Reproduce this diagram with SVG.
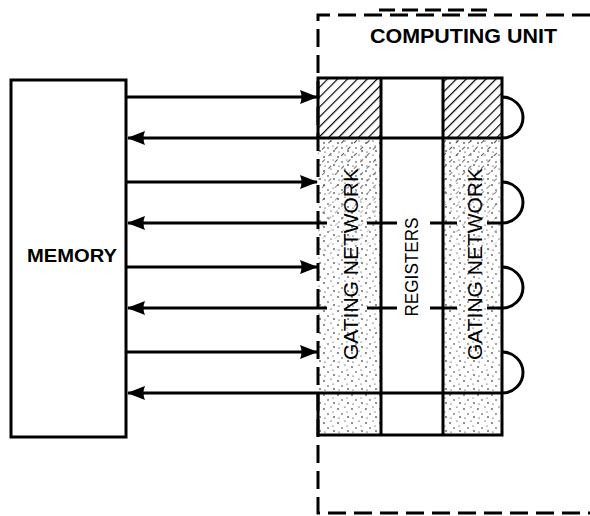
<svg xmlns="http://www.w3.org/2000/svg" width="590" height="516" viewBox="0 0 590 516">
  <style>
    .ln { stroke: #000; stroke-width: 3; fill: none; }
    .dash { stroke: #000; stroke-width: 3; fill: none; stroke-dasharray: 18 8; }
    .lbl { font-family: "Liberation Sans", Arial, sans-serif; fill: #000; }
  </style>
  <defs>
    <marker id="ah" viewBox="0 0 18 14" refX="17" refY="7" markerWidth="18" markerHeight="14" markerUnits="userSpaceOnUse" orient="auto">
      <path d="M0,0 L18,7 L0,14 Q3,7 0,0 Z" fill="#000"/>
    </marker>
    <pattern id="hatch" width="7" height="7" patternUnits="userSpaceOnUse" patternTransform="rotate(45)">
      <line x1="0" y1="0" x2="0" y2="7" stroke="#000" stroke-width="2.4"/>
    </pattern>
    <pattern id="stip" width="14" height="14" patternUnits="userSpaceOnUse">
      <circle cx="2" cy="3" r="0.8" fill="#000"/>
      <circle cx="9" cy="1" r="0.6" fill="#000"/>
      <circle cx="6" cy="8" r="0.7" fill="#000"/>
      <circle cx="12" cy="11" r="0.8" fill="#000"/>
      <circle cx="3" cy="12" r="0.6" fill="#000"/>
      <circle cx="11" cy="6" r="0.5" fill="#000"/>
    </pattern>
    <pattern id="brokenhatch" width="9" height="9" patternUnits="userSpaceOnUse" patternTransform="rotate(45)">
      <line x1="0" y1="0" x2="0" y2="4" stroke="#000" stroke-width="1.5"/>
    </pattern>
    <linearGradient id="fade" x1="0" y1="0" x2="0" y2="1">
      <stop offset="0" stop-color="#fff" stop-opacity="1"/>
      <stop offset="1" stop-color="#fff" stop-opacity="0"/>
    </linearGradient>
    <mask id="fadeMask">
      <rect x="300" y="138" width="220" height="130" fill="url(#fade)"/>
    </mask>
  </defs>

  <g id="computing-unit">
    <path class="dash" d="M590,15 H318 V513 H590"/>
    <path class="ln" d="M379,10 H395 M402,10 H418 M425,10 H441 M448,10 H464 M471,10 H487"/>
    <text class="lbl" x="370" y="43" font-size="20" font-weight="bold" textLength="187" lengthAdjust="spacingAndGlyphs">COMPUTING UNIT</text>
  </g>

  <g id="memory">
    <rect class="ln" x="11" y="80" width="115" height="357" fill="#fff"/>
    <text class="lbl" x="27" y="262" font-size="19" font-weight="bold" textLength="90" lengthAdjust="spacingAndGlyphs">MEMORY</text>
  </g>

  <g id="gating-network-left">
    <rect x="318" y="78" width="63" height="60" fill="url(#hatch)"/>
    <rect x="318" y="138" width="63" height="297" fill="url(#stip)"/>
    <rect x="318" y="138" width="63" height="130" fill="url(#brokenhatch)" mask="url(#fadeMask)"/>
    <text class="lbl" transform="translate(358,264) rotate(-90)" text-anchor="middle" font-size="21" textLength="192" lengthAdjust="spacingAndGlyphs">GATING NETWORK</text>
  </g>

  <g id="registers">
    <text class="lbl" transform="translate(418,267) rotate(-90)" text-anchor="middle" font-size="18" textLength="99" lengthAdjust="spacingAndGlyphs">REGISTERS</text>
  </g>

  <g id="gating-network-right">
    <rect x="443" y="78" width="59" height="60" fill="url(#hatch)"/>
    <rect x="443" y="138" width="59" height="297" fill="url(#stip)"/>
    <rect x="443" y="138" width="59" height="130" fill="url(#brokenhatch)" mask="url(#fadeMask)"/>
    <text class="lbl" transform="translate(482,264) rotate(-90)" text-anchor="middle" font-size="21" textLength="192" lengthAdjust="spacingAndGlyphs">GATING NETWORK</text>
  </g>

  <g id="block-frame">
    <path class="ln" d="M318,138 V78 H502 V435 H318 V393"/>
    <line class="ln" x1="381" y1="78" x2="381" y2="435"/>
    <line class="ln" x1="443" y1="78" x2="443" y2="435"/>
  </g>

  <g id="connectors">
    <line class="ln" x1="126" y1="97" x2="317" y2="97" marker-end="url(#ah)"/>
    <line class="ln" x1="126" y1="182" x2="317" y2="182" marker-end="url(#ah)"/>
    <line class="ln" x1="126" y1="267" x2="317" y2="267" marker-end="url(#ah)"/>
    <line class="ln" x1="126" y1="352" x2="317" y2="352" marker-end="url(#ah)"/>

    <line class="ln" x1="502" y1="138" x2="128" y2="138" marker-end="url(#ah)"/>
    <line class="ln" x1="327" y1="223" x2="128" y2="223" marker-end="url(#ah)"/>
    <line class="ln" x1="327" y1="308" x2="128" y2="308" marker-end="url(#ah)"/>
    <line class="ln" x1="502" y1="393" x2="128" y2="393" marker-end="url(#ah)"/>

    <path class="ln" d="M367,223 H397 M430,223 H457 M487,223 H502"/>
    <path class="ln" d="M367,308 H397 M430,308 H457 M487,308 H502"/>

    <path class="ln" d="M502,97 A21,20.5 0 0 1 502,138"/>
    <path class="ln" d="M502,182 A21,20.5 0 0 1 502,223"/>
    <path class="ln" d="M502,267 A21,20.5 0 0 1 502,308"/>
    <path class="ln" d="M502,352 A21,20.5 0 0 1 502,393"/>
  </g>
</svg>
